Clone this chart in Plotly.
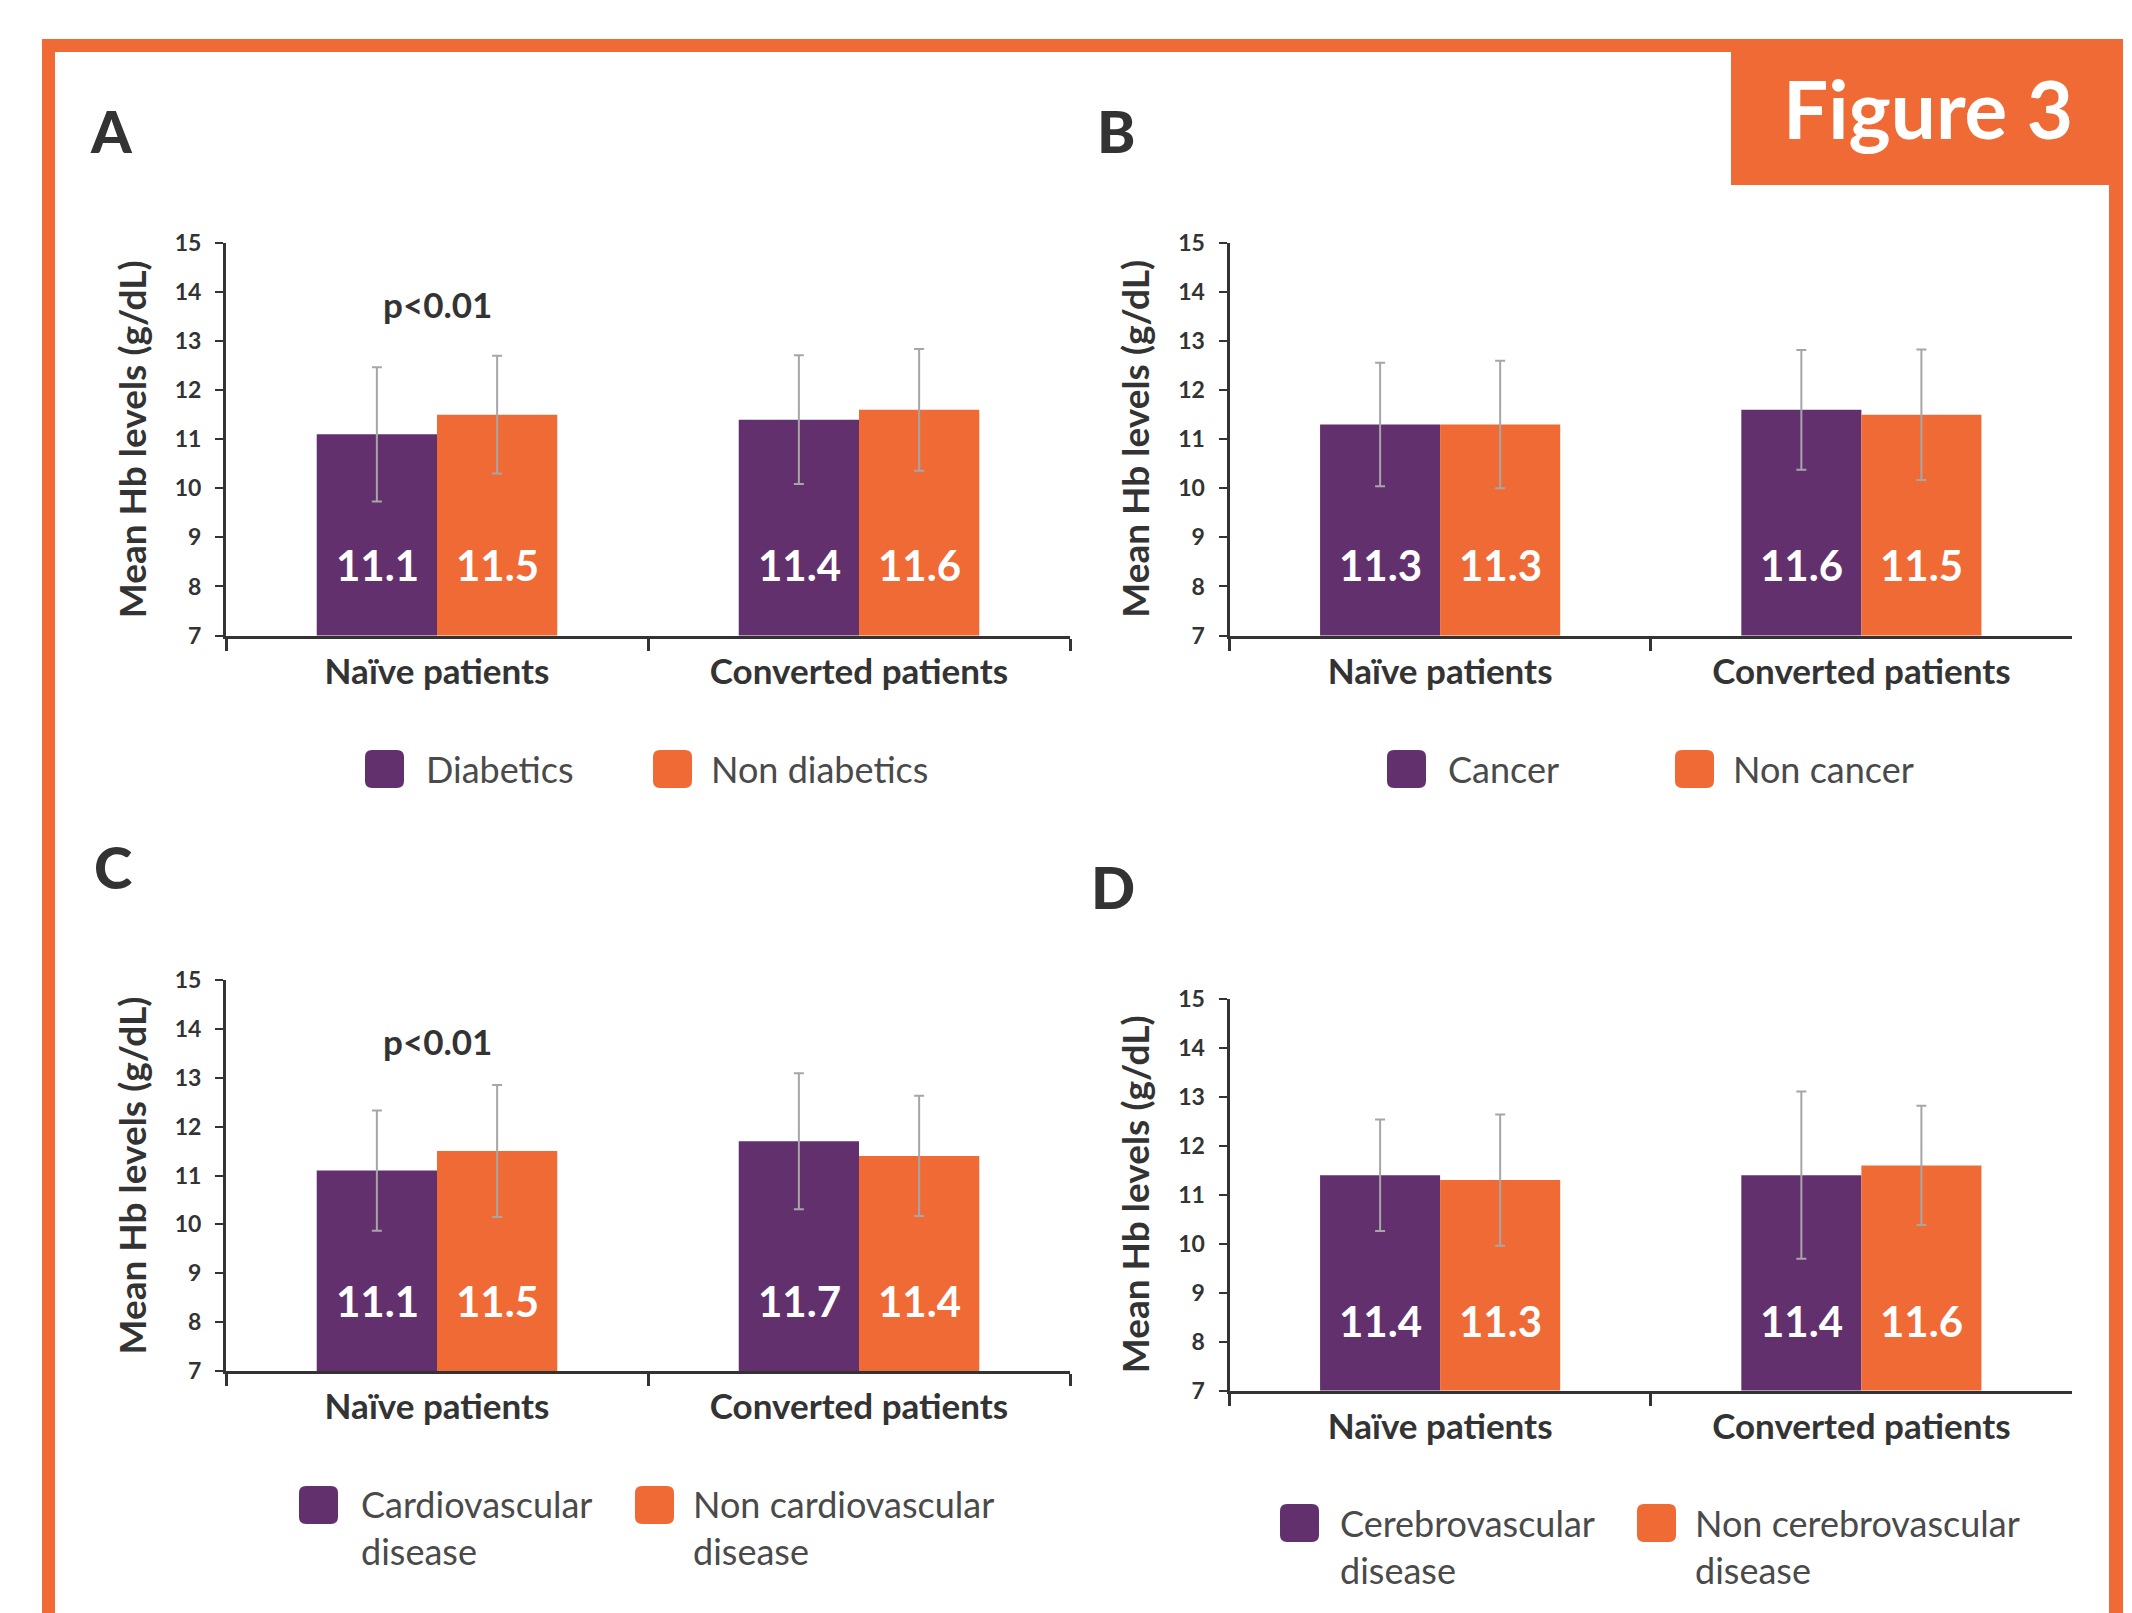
import plotly.graph_objects as go

W, H = 2132, 1613

# ---------------- data ----------------
categories = ["Naïve patients", "Converted patients"]
y_ticks = [7, 8, 9, 10, 11, 12, 13, 14, 15]
panel_letters = ["A", "B", "C", "D"]

a_series = ["Diabetics", "Non diabetics"]
a_first = [11.1, 11.4]
a_second = [11.5, 11.6]
a_first_err = [1.37, 1.31]
a_second_err = [1.20, 1.24]

b_series = ["Cancer", "Non cancer"]
b_first = [11.3, 11.6]
b_second = [11.3, 11.5]
b_first_err = [1.26, 1.22]
b_second_err = [1.30, 1.33]

c_series = ["Cardiovascular<br>disease", "Non cardiovascular<br>disease"]
c_first = [11.1, 11.7]
c_second = [11.5, 11.4]
c_first_err = [1.23, 1.39]
c_second_err = [1.35, 1.23]

d_series = ["Cerebrovascular<br>disease", "Non cerebrovascular<br>disease"]
d_first = [11.4, 11.4]
d_second = [11.3, 11.6]
d_first_err = [1.14, 1.71]
d_second_err = [1.34, 1.22]

p_labels = ["p<0.01", None, "p<0.01", None]
y_title = "Mean Hb levels (g/dL)"
fig_title = "Figure 3"

# ---------------- style ----------------
PURPLE = "#63306E"
ORANGE = "#F06A36"
FRAME = "#F06A36"
DARK = "#333333"
LEG_TXT = "#4a4a4a"
ERR = "#A6A6A6"
FONT = "Lato"

def px(x):
    return x / W

def py(y):
    return 1 - y / H

# plot-area pixel boxes (left, right, top(15), bottom(7))
boxes = [
    (226, 1070, 243, 635.5),
    (1229.5, 2072, 243, 635.5),
    (226, 1070, 980, 1371),
    (1229.5, 2072, 999, 1390.5),
]

panels = [
    (a_series, a_first, a_second, a_first_err, a_second_err),
    (b_series, b_first, b_second, b_first_err, b_second_err),
    (c_series, c_first, c_second, c_first_err, c_second_err),
    (d_series, d_first, d_second, d_first_err, d_second_err),
]

fig = go.Figure()
layout = dict(
    width=W, height=H, margin=dict(l=0, r=0, t=0, b=0, pad=0, autoexpand=False),
    paper_bgcolor="white", plot_bgcolor="white",
    barmode="group", bargap=0.43, bargroupgap=0,
    showlegend=False, font=dict(family=FONT, color=DARK),
)
annotations = []
shapes = []

for i, (series, first, second, e1, e2) in enumerate(panels):
    sfx = "" if i == 0 else str(i + 1)
    xa, ya = "x" + sfx, "y" + sfx
    for vals, errs, col, name in ((first, e1, PURPLE, series[0]), (second, e2, ORANGE, series[1])):
        fig.add_trace(go.Bar(
            x=categories, y=vals, name=name, xaxis=xa, yaxis=ya,
            marker=dict(color=col, line=dict(width=0)),
            error_y=dict(type="data", array=errs, visible=True, color=ERR, thickness=2, width=5),
            hoverinfo="skip",
        ))
    l, r, t, b = boxes[i]
    layout["xaxis" + sfx] = dict(
        domain=[px(l), px(r)], anchor=ya, type="category", range=[-0.5, 1.5],
        showline=True, linecolor=DARK, linewidth=3, ticks="outside", tickson="boundaries",
        ticklen=12, tickwidth=3, tickcolor=DARK, showgrid=False, zeroline=False,
        tickfont=dict(family=FONT, size=35, color=DARK, weight="bold"), ticklabelstandoff=3,
        fixedrange=True, automargin=False,
    )
    layout["yaxis" + sfx] = dict(
        domain=[py(b), py(t)], anchor=xa, range=[7, 15], tickvals=y_ticks,
        showline=True, linecolor=DARK, linewidth=3, ticks="outside", ticklen=8, tickwidth=2,
        tickcolor=DARK, showgrid=False, zeroline=False,
        tickfont=dict(family=FONT, size=23, color=DARK, weight="bold"), ticklabelstandoff=9,
        fixedrange=True, automargin=False,
    )
    # value labels inside bars
    for k, cat in enumerate(categories):
        for vals, shift in ((first, -60), (second, 60)):
            annotations.append(dict(
                x=cat, y=8.43, xref=xa, yref=ya, xshift=shift, text=f"{vals[k]:.1f}",
                showarrow=False, font=dict(family=FONT, size=42, color="white", weight="bold"),
                xanchor="center", yanchor="middle",
            ))
    if p_labels[i]:
        annotations.append(dict(
            x=categories[0], y=13.75, xref=xa, yref=ya, text=p_labels[i], showarrow=False,
            font=dict(family=FONT, size=35, color=DARK, weight="bold"), yanchor="middle",
        ))
    # y axis title
    annotations.append(dict(
        x=px(l - 95), y=py((t + b) / 2), xref="paper", yref="paper", text=y_title,
        textangle=-90, showarrow=False, xanchor="center", yanchor="middle",
        font=dict(family=FONT, size=37, color=DARK, weight="bold"),
    ))

# panel letters
letter_pos = [(111, 131), (1116, 131), (113, 866), (1113, 886)]
for letter, (lx, ly) in zip(panel_letters, letter_pos):
    annotations.append(dict(
        x=px(lx), y=py(ly), xref="paper", yref="paper", text=letter, showarrow=False,
        xanchor="center", yanchor="middle",
        font=dict(family=FONT, size=58, color=DARK, weight=900),
    ))

# legends (drawn manually): (square_x0, text_x) pairs per item, square center y, text center y
legend_layout = [
    ([(365, 424), (653, 709)], 769, 769),
    ([(1387, 1446), (1675, 1731)], 769, 769),
    ([(299, 359), (635, 691)], 1505, 1527),
    ([(1280, 1338), (1637, 1693)], 1523, 1546),
]

def rounded(x0, y0, x1, y1, r):
    pts = [
        ("M", x0 + r, y0), ("L", x1 - r, y0), ("Q", x1, y0, x1, y0 + r),
        ("L", x1, y1 - r), ("Q", x1, y1, x1 - r, y1), ("L", x0 + r, y1),
        ("Q", x0, y1, x0, y1 - r), ("L", x0, y0 + r), ("Q", x0, y0, x0 + r, y0),
    ]
    s = ""
    for p in pts:
        cmd, coords = p[0], p[1:]
        s += cmd + " " + " ".join(
            f"{px(c):.5f}" if j % 2 == 0 else f"{py(c):.5f}" for j, c in enumerate(coords)
        ) + " "
    return s + "Z"

for i, (items, sq_cy, txt_cy) in enumerate(legend_layout):
    series = panels[i][0]
    for (sx, tx), col, name in zip(items, (PURPLE, ORANGE), series):
        shapes.append(dict(type="path", xref="paper", yref="paper",
                           path=rounded(sx, sq_cy - 19, sx + 39, sq_cy + 19, 7),
                           fillcolor=col, line=dict(width=0)))
        annotations.append(dict(
            x=px(tx), y=py(txt_cy), xref="paper", yref="paper", text=name, showarrow=False,
            xanchor="left", yanchor="middle", align="left",
            font=dict(family=FONT, size=36, color=LEG_TXT),
        ))

# orange frame and title box
for (x0, y0, x1, y1) in [(42, 39, 2123, 52), (42, 39, 55, H + 5), (2109, 39, 2123, H + 5), (1731, 39, 2123, 185)]:
    shapes.append(dict(type="rect", xref="paper", yref="paper", x0=px(x0), x1=px(x1),
                       y0=py(y1), y1=py(y0), fillcolor=FRAME, line=dict(width=0), layer="below"))
annotations.append(dict(
    x=px(1928), y=py(108), xref="paper", yref="paper", text=fig_title, showarrow=False,
    xanchor="center", yanchor="middle",
    font=dict(family=FONT, size=80, color="white", weight="bold"),
))

layout["annotations"] = annotations
layout["shapes"] = shapes
fig.update_layout(**layout)

fig.write_html("out.html", config={"displayModeBar": False},
               post_script="document.body.style.margin='0';")
